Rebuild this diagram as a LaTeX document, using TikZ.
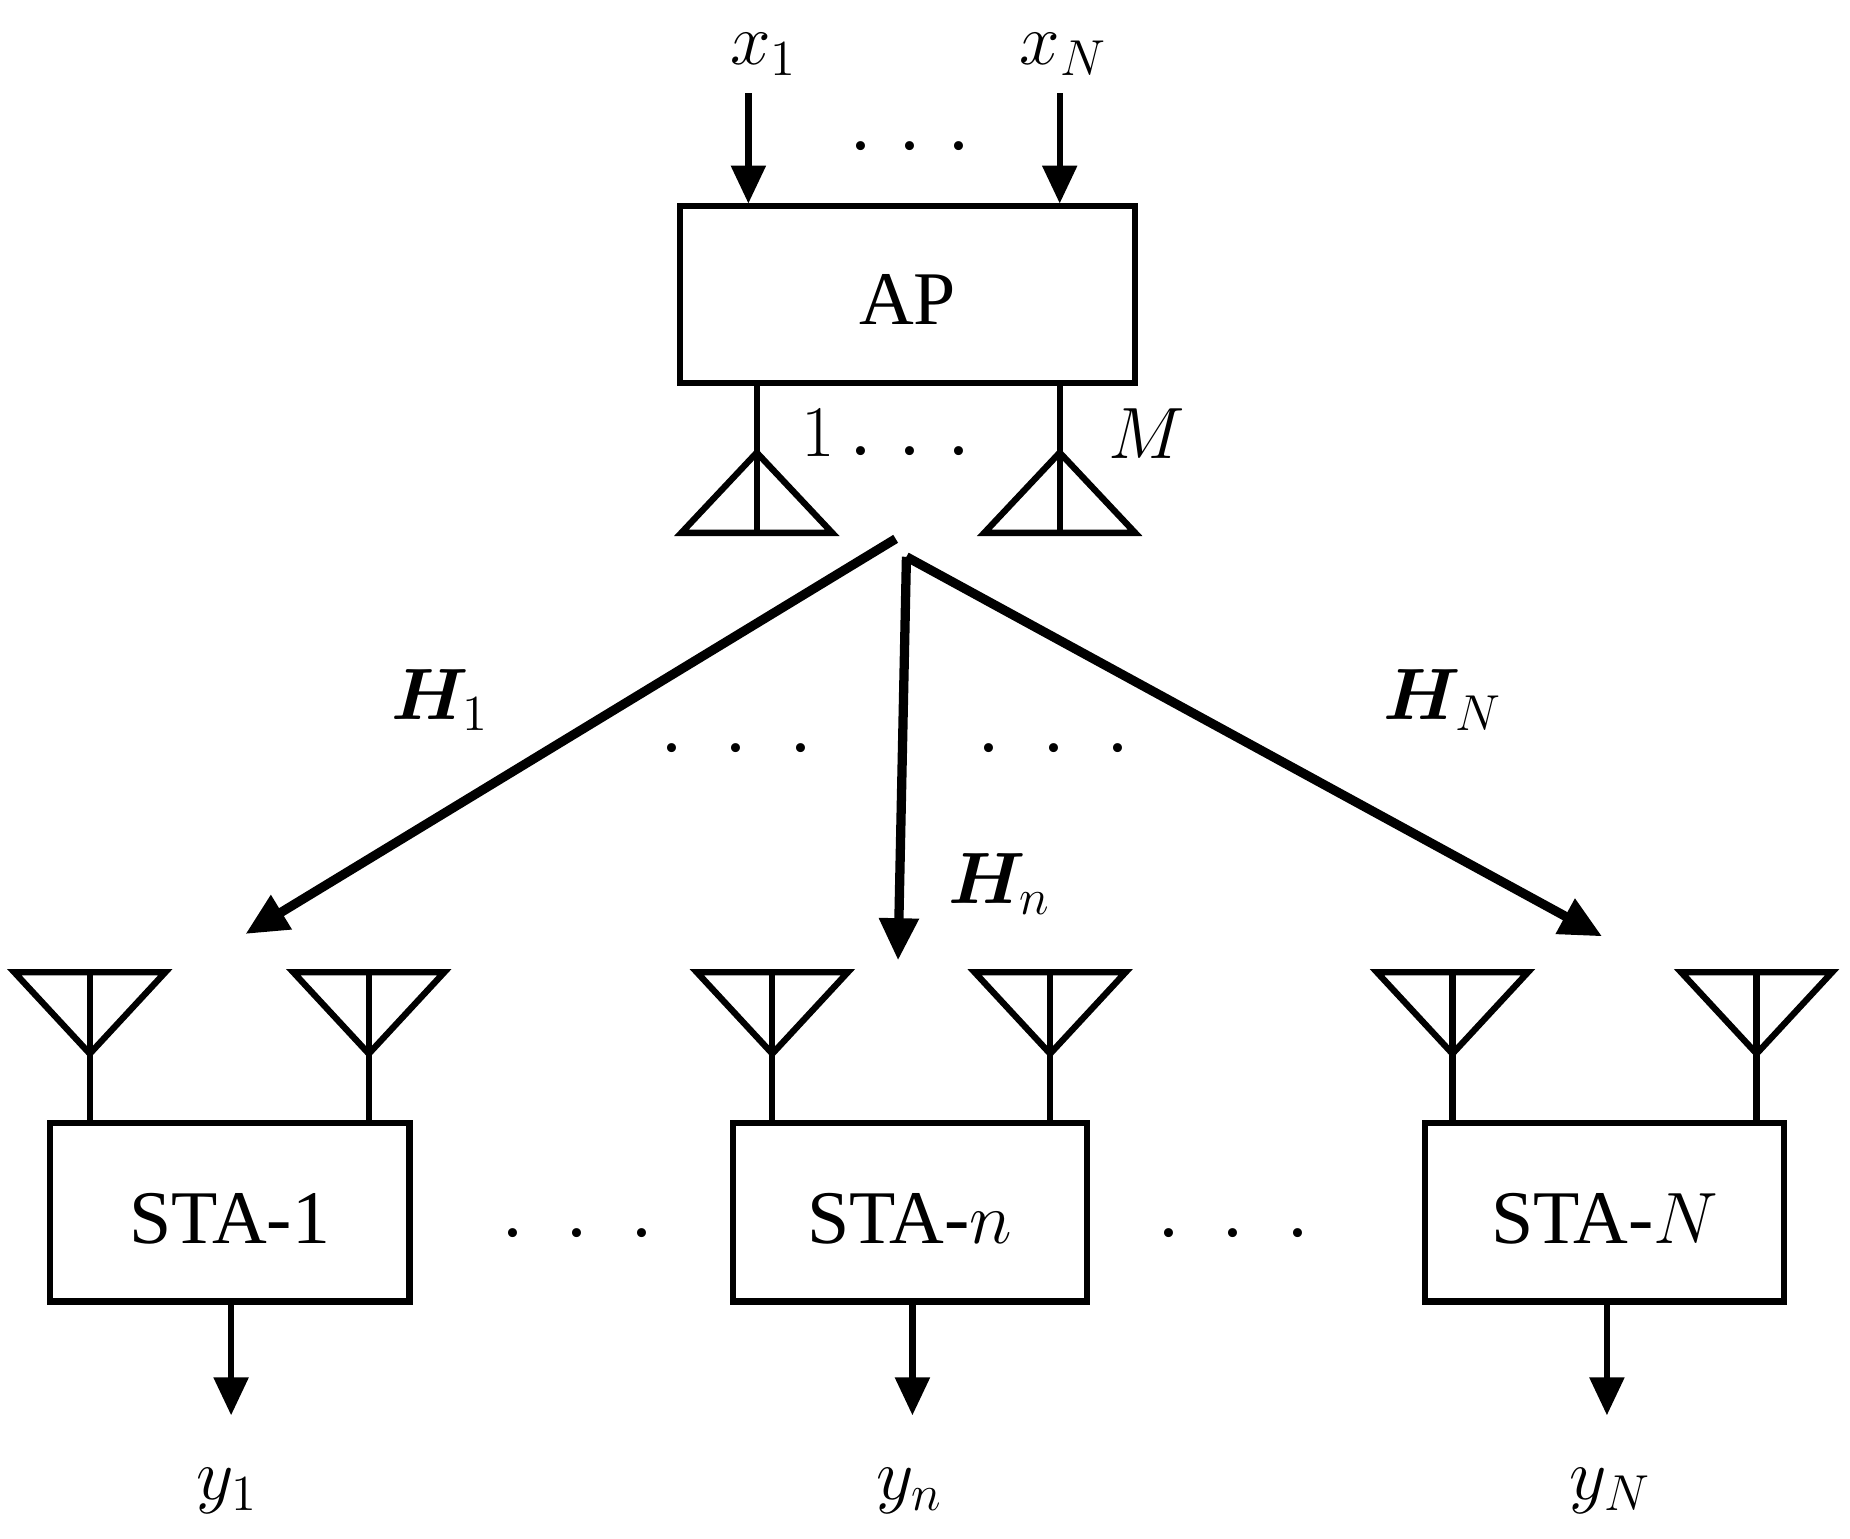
\documentclass[tikz,border=0pt]{standalone}
\usepackage{amsmath,bm}
\usepackage{fontspec}
\setmainfont{Liberation Serif}
\usetikzlibrary{arrows.meta}
\newcommand{\wdots}{.\hspace{0.6em}.\hspace{0.6em}.}
\newcommand{\ndots}{.\hspace{0.4em}.\hspace{0.4em}.}
\begin{document}
\begin{tikzpicture}[x=0.01cm,y=-0.01cm,
  lbl/.style={font=\fontsize{18}{20}\selectfont},
  io/.style={line width=1.5pt,-{Triangle[length=9pt,width=8pt]}},
  ch/.style={line width=2.2pt,-{Triangle[length=10pt,width=9pt]}},
  ant/.style={line width=1.5pt},
  dots/.style={font=\fontsize{18}{20}\selectfont}]
\useasboundingbox (0,0) rectangle (1545,1285);
% AP
\draw[line width=1.5pt] (568,172) rectangle (948,320);
\node[lbl] (ap) at (758,250) {AP};
\coordinate (apin1) at (625,170); \coordinate (apinN) at (885,170);
\node[lbl] (x1) at (638,45) {$x_1$};
\node[lbl] (xN) at (888,45) {$x_N$};
\draw[io] (625,78) -- (apin1);
\draw[io] (885,78) -- (apinN);
\node[dots] (d0) at (760,122) {\ndots};
% AP antennas
\foreach \x in {632,885}{
  \draw[ant] (\x,320) -- (\x,445);
  \draw[ant] (\x-63,445) -- (\x,378) -- (\x+63,445) -- cycle;
}
\node[lbl] (one) at (683,362) {$1$};
\node[lbl] (M) at (958,362) {$M$};
\node[dots] (d1) at (760,377) {\ndots};
% channels
\coordinate (s1) at (748,450);
\coordinate (s2) at (757,465);
\coordinate (e1) at (205,780);
\coordinate (e2) at (750,802);
\coordinate (e3) at (1338,782);
\draw[ch] (s1) -- (e1);
\draw[ch] (s2) -- (e2);
\draw[ch] (s2) -- (e3);
\node[lbl] (H1) at (368,585) {$\bm{H}_1$};
\node[lbl] (Hn) at (835,738) {$\bm{H}_n$};
\node[lbl] (HN) at (1205,585) {$\bm{H}_N$};
\node[dots] (d2) at (615,625) {\wdots};
\node[dots] (d3) at (880,625) {\wdots};
% STA antennas
\foreach \x in {75,308,645,877,1213,1467}{
  \draw[ant] (\x,880) -- (\x,938);
  \draw[ant] (\x-63,812) -- (\x+63,812) -- (\x,880) -- cycle;
  \draw[ant] (\x,812) -- (\x,880);
}
% STA boxes
\draw[line width=1.5pt] (42,938) rectangle (342,1087);
\draw[line width=1.5pt] (612,938) rectangle (908,1087);
\draw[line width=1.5pt] (1190,938) rectangle (1490,1087);
\node[lbl] (sta1) at (192,1018) {STA-1};
\node[lbl] (stan) at (760,1018) {STA-$n$};
\node[lbl] (staN) at (1340,1018) {STA-$N$};
\node[dots] (d4) at (482,1030) {\wdots};
\node[dots] (d5) at (1030,1030) {\wdots};
% outputs
\node[lbl] (y1) at (190,1245) {$y_1$};
\node[lbl] (yn) at (760,1245) {$y_n$};
\node[lbl] (yN) at (1345,1245) {$y_N$};
\coordinate (o1) at (193,1182); \coordinate (on) at (762,1182); \coordinate (oN) at (1342,1182);
\draw[io] (193,1087) -- (o1);
\draw[io] (762,1087) -- (on);
\draw[io] (1342,1087) -- (oN);
\end{tikzpicture}
\end{document}
